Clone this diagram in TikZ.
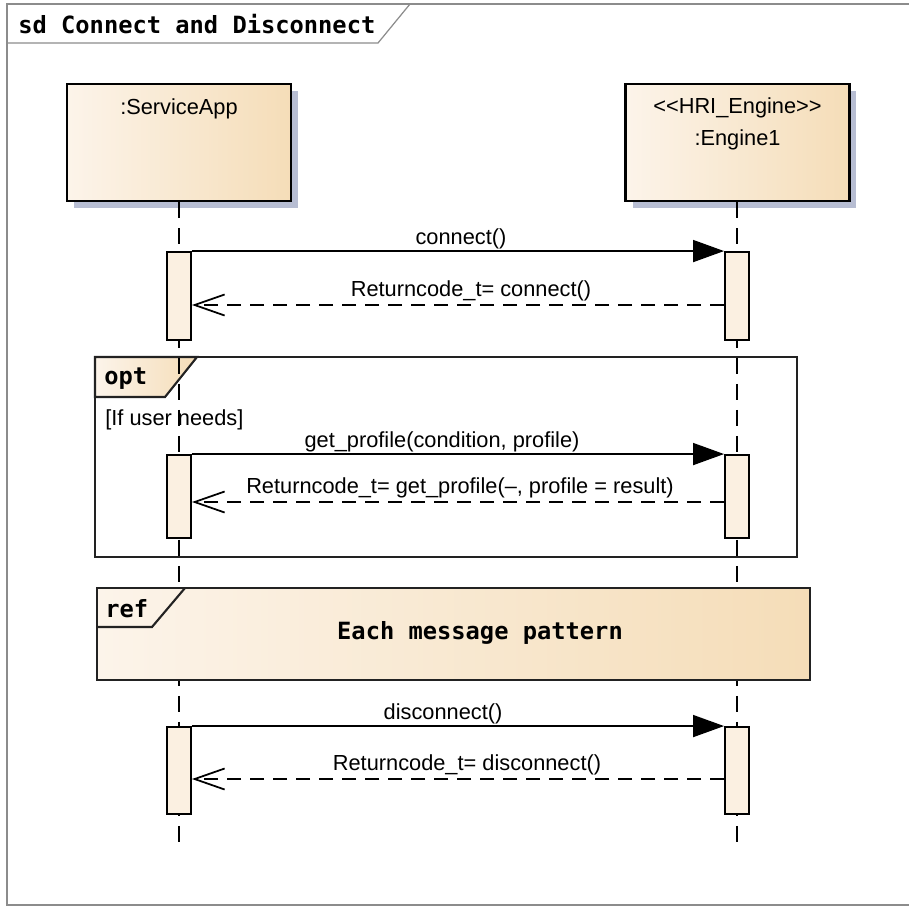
\documentclass[tikz,border=0pt]{standalone}
\usepackage{fontspec}
\newfontfamily\uifont{Liberation Sans}
\newfontfamily\headfont{DejaVu Sans Mono}
\usetikzlibrary{arrows.meta,positioning,shadows}

\definecolor{boxleft}{HTML}{FCF4EA}
\definecolor{boxright}{HTML}{F5DDB8}
\definecolor{actfill}{HTML}{FBF0E1}
\definecolor{shadowblue}{HTML}{B7BDD2}
\definecolor{framegray}{HTML}{8C8C8C}
\definecolor{fragline}{HTML}{222222}

\tikzset{
  lifebox/.style={draw, line width=1.2pt, minimum width=4.48cm, minimum height=2.34cm,
    left color=boxleft, right color=boxright,
    drop shadow={shadow xshift=0.14cm, shadow yshift=-0.14cm, opacity=1, fill=shadowblue}},
  lifetext/.style={inner sep=0pt, align=center, font=\uifont\fontsize{12.4}{18.7}\selectfont},
  lifeline/.style={line width=1pt, dash pattern=on 0.32cm off 0.2cm},
  activation/.style={draw, fill=actfill, line width=1.1pt, minimum width=0.48cm, inner sep=0pt},
  call/.style={line width=1pt, -{Triangle[length=0.62cm, width=0.44cm]}},
  reply/.style={line width=1pt, dash pattern=on 0.28cm off 0.18cm,
    -{Straight Barb[length=0.6cm, width=0.42cm]}},
  msg/.style={inner sep=2pt, font=\uifont\fontsize{12.4}{14}\selectfont},
  callmsg/.style={msg, inner sep=0.5pt},
  headtext/.style={inner sep=0pt, font=\headfont\bfseries\fontsize{13.5}{15}\selectfont},
  fragment/.style={draw=fragline, line width=1.2pt},
}

\begin{document}
\begin{tikzpicture}[x=0.02cm, y=-0.02cm]
    \useasboundingbox (0,0) rectangle (909,907);

    % Diagram frame and its name tab
    \draw[framegray, line width=0.7pt] (915,4) -- (7,4) -- (7,905) -- (915,905);
    \draw[framegray, line width=0.7pt] (7,43) -- (378,43) -- (410,4);
    \node[headtext, anchor=west] (title) at (18,24) {sd Connect and Disconnect};

    % Optional fragment
    \draw[fragment] (95,357) rectangle (797,557);
    \draw[fragment, left color=boxleft, right color=boxright] (95,357) -- (197,357) -- (165,397) -- (95,397) -- cycle;
    \node[headtext, anchor=west] (optlabel) at (104,379) {opt};
    \node[msg, anchor=west, inner sep=0pt] (guard) at (105,420) {[If user needs]};

    % Lifelines
    \node[lifebox] (app) at (179,142.5) {};
    \node[lifetext, below=0.31cm of app.north] (appname) {:ServiceApp};
    \node[lifebox] (engine) at (737.5,142.5) {};
    \node[lifetext, below=0.28cm of engine.north] (enginename) {<<HRI\_Engine>>\\:Engine1};

    \coordinate (append) at (179,842);
    \coordinate (engineend) at (737,842);
    \draw[lifeline] (179,202) -- (append);
    \draw[lifeline] (737,202) -- (engineend);

    % Interaction use
    \node[fragment, left color=boxleft, right color=boxright,
          minimum width=14.26cm, minimum height=1.84cm] (ref) at (453.5,634) {};
    \draw[fragment] (97,627) -- (152,627) -- (185,588);
    \node[headtext, anchor=west] (reflabel) at (105,609) {ref};
    \node[headtext] (refname) at (480,633) {Each message pattern};

    % Activations
    \node[activation, minimum height=1.76cm] (a1) at (179,296) {};
    \node[activation, minimum height=1.76cm] (e1) at (737,296) {};
    \node[activation, minimum height=1.66cm] (a2) at (179,496.5) {};
    \node[activation, minimum height=1.66cm] (e2) at (737,496.5) {};
    \node[activation, minimum height=1.74cm] (a3) at (179,770.5) {};
    \node[activation, minimum height=1.74cm] (e3) at (737,770.5) {};

    % Messages
    \coordinate (r1) at (0,305);
    \coordinate (r2) at (0,502);
    \coordinate (r3) at (0,779);
    \draw[call] (a1.north east) -- node[callmsg, above, xshift=0.06cm] (m1) {connect()} (e1.north west);
    \draw[reply] (e1.west |- r1) -- node[msg, above, xshift=0.26cm] (m2) {Returncode\_t= connect()} (a1.east |- r1);
    \draw[call] (a2.north east) -- node[callmsg, above, xshift=-0.32cm] (m3) {get\_profile(condition, profile)} (e2.north west);
    \draw[reply] (e2.west |- r2) -- node[msg, above, xshift=0.04cm] (m4) {Returncode\_t= get\_profile(–, profile = result)} (a2.east |- r2);
    \draw[call] (a3.north east) -- node[callmsg, above, xshift=-0.3cm] (m5) {disconnect()} (e3.north west);
    \draw[reply] (e3.west |- r3) -- node[msg, above, xshift=0.18cm] (m6) {Returncode\_t= disconnect()} (a3.east |- r3);
\end{tikzpicture}
\end{document}
